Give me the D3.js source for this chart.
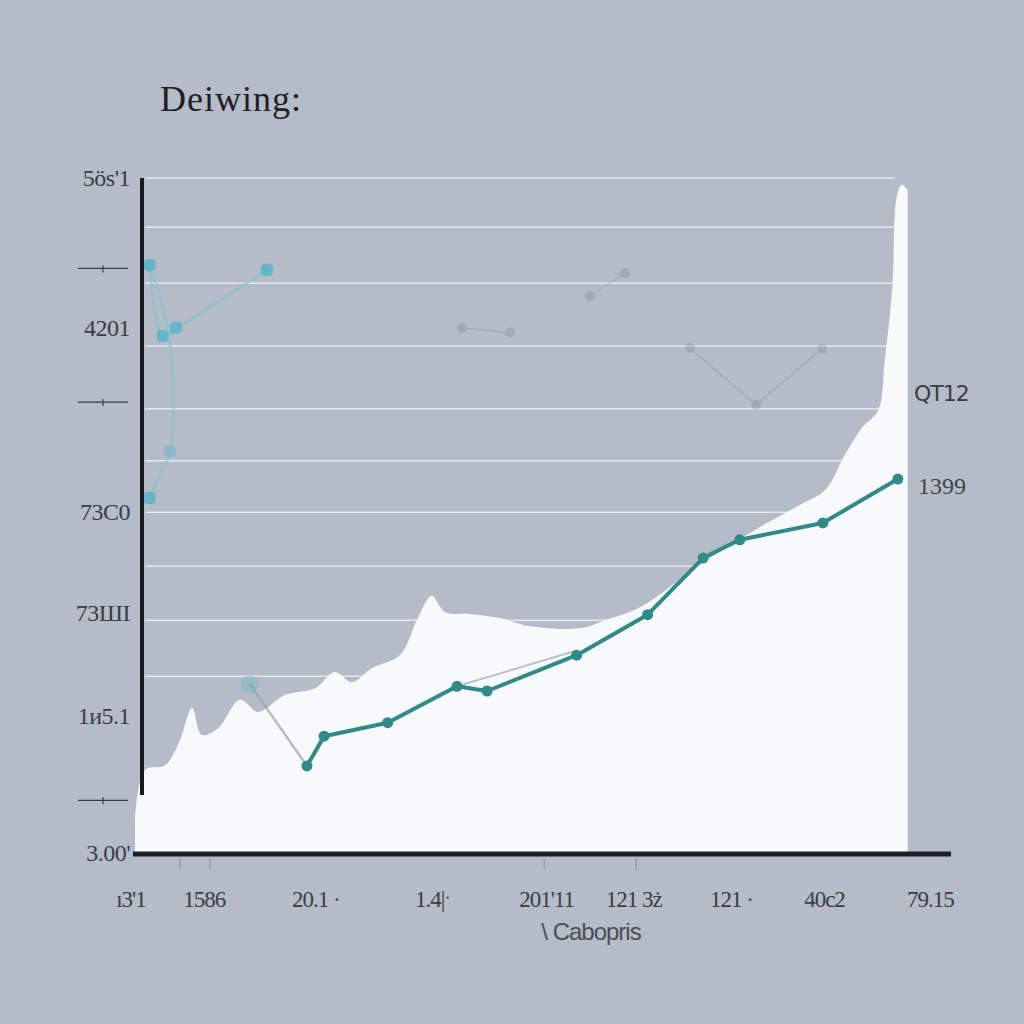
<!DOCTYPE html>
<html>
<head>
<meta charset="utf-8">
<script src="https://cdn.jsdelivr.net/npm/d3@7"></script>
<style>
  body { margin: 0; background: #b5bcc8; }
  svg { display: block; }
  .ylab, .xlab { font-family: 'Liberation Serif', serif; fill: #3a3d44; }
</style>
</head>
<body>
<svg id="chart" width="1024" height="1024"></svg>
<script>
// x and y both on a 0..100 scale
const mainX = [21.1, 23.2, 31.0, 39.5, 43.2, 54.2, 62.9, 69.7, 74.2, 84.4, 93.6];
const mainY = [12.9, 17.3, 19.3, 24.7, 24.0, 29.3, 35.3, 43.7, 46.4, 48.9, 55.4];

const areaX = [0, 1.2, 3.7, 5.5, 7.0, 8.2, 10.2, 12.9, 15.1, 18.4, 22.1, 24.5, 26.6, 29.1,
  32.5, 34.7, 36.4, 38.0, 41.1, 44.8, 48.5, 54.6, 57.7, 62.0, 69.3, 76.7, 81.6, 84.7,
  87.1, 89.2, 91.2, 92.0, 92.9, 93.5, 94.1, 94.8];
const areaY = [4.9, 12.3, 13.0, 16.7, 21.5, 17.5, 18.5, 22.7, 20.9, 23.4, 24.4, 26.8, 25.3, 27.4,
  29.3, 34.8, 38.1, 35.7, 35.4, 34.8, 33.6, 33.3, 34.5, 36.4, 42.7, 48.3, 51.6, 53.8,
  59.0, 63.0, 65.6, 73.0, 83.4, 97.5, 99.0, 98.2];

const gridY = [100, 92.7, 84.4, 75.1, 65.8, 58.1, 50.5, 42.5, 34.5, 26.2];

// faint ghost traces
const ghostCyanA = [[1.8, 87.1], [3.2, 82.0], [4.5, 73.0], [4.3, 59.5], [3.0, 56.0], [1.8, 52.6]];
const ghostCyanB = [[1.8, 87.1], [3.4, 76.6], [5.3, 77.9], [16.2, 86.4]];
const ghostCyanDots = [[1.8, 87.1], [3.4, 76.6], [5.0, 77.8], [16.2, 86.4], [1.8, 52.6], [14.1, 25.0], [4.3, 59.5]];
const ghostGrayA = [[14.1, 25.0], [21.1, 12.9]];
const ghostGrayB = [[39.5, 24.7], [54.2, 30.0]];
const ghostDots = [[[40.1, 77.8], [46.0, 77.1]], [[55.8, 82.5], [60.1, 85.9]],
  [[68.1, 74.8], [76.2, 66.4], [84.3, 74.7]]];

const yTickLabels = ["5ös'1", "4201", "73C0", "73ШI", "1и5.1", "3.00'"];
const yTickVals = [100, 77.8, 50.5, 35.5, 20.3, 0];
const yDashVals = [86.6, 66.8, 7.8];
const xTickLabels = ["ı3'1", "1586", "20.1 ·", "1.4|ˑ", "201'11", "121 3ż", "121 ·", "40c2", "79.15"];
const xTickVals = [-0.5, 8.5, 22.2, 36.5, 50.5, 61.2, 73.2, 84.6, 97.6];

const svg = d3.select('#chart');
const x = d3.scaleLinear().domain([0, 100]).range([135, 950]);
const y = d3.scaleLinear().domain([0, 100]).range([853, 178]);

// gridlines
svg.append('g').selectAll('line')
  .data(gridY)
  .join('line')
    .attr('x1', 145).attr('x2', 895)
    .attr('y1', d => y(d)).attr('y2', d => y(d))
    .attr('stroke', '#e4e7ec')
    .attr('stroke-width', 1.5);

// ghost gray dots in the middle
const line = d3.line().x(d => x(d[0])).y(d => y(d[1]));
const ghosts = svg.append('g').attr('opacity', 0.2);
ghostDots.forEach(seg => {
  ghosts.append('path')
      .attr('d', line(seg))
      .attr('fill', 'none')
      .attr('stroke', '#6d737e')
      .attr('stroke-width', 1.5);
  ghosts.selectAll(null)
    .data(seg)
    .join('circle')
      .attr('cx', d => x(d[0])).attr('cy', d => y(d[1]))
      .attr('r', 5)
      .attr('fill', '#5f6570');
});

// white area
const area = d3.area()
    .x((d, i) => x(areaX[i]))
    .y0(y(0))
    .y1(d => y(d))
    .curve(d3.curveCatmullRom.alpha(0.5));
svg.append('path')
    .attr('d', area(areaY))
    .attr('fill', '#f8f9fb');

// cyan ghost traces on the left
const curved = d3.line().x(d => x(d[0])).y(d => y(d[1])).curve(d3.curveCatmullRom);
[ghostCyanA, ghostCyanB].forEach(seg => {
  svg.append('path')
      .attr('d', curved(seg))
      .attr('fill', 'none')
      .attr('stroke', '#7cc3cf')
      .attr('stroke-opacity', 0.5)
      .attr('stroke-width', 3);
});
svg.append('path')
    .attr('d', line(ghostGrayA))
    .attr('stroke', '#9aa3ab')
    .attr('stroke-width', 2.5)
    .attr('opacity', 0.7);
svg.append('path')
    .attr('d', line(ghostGrayB))
    .attr('stroke', '#b9c3c6')
    .attr('stroke-width', 2);
svg.append('g').selectAll('rect')
  .data(ghostCyanDots)
  .join('rect')
    .attr('x', (d, i) => x(d[0]) - (i === 5 ? 9 : 6))
    .attr('y', (d, i) => y(d[1]) - (i === 5 ? 9 : 6))
    .attr('width', (d, i) => i === 5 ? 18 : 12)
    .attr('height', (d, i) => i === 5 ? 18 : 12)
    .attr('rx', (d, i) => i === 5 ? 9 : 4)
    .attr('fill', '#4fb2c8')
    .attr('opacity', (d, i) => i === 5 ? 0.3 : i === 6 ? 0.35 : 0.75);

// main series
svg.append('path')
    .attr('d', d3.line().x((d, i) => x(mainX[i])).y(d => y(d))(mainY))
    .attr('fill', 'none')
    .attr('stroke', '#2f8a88')
    .attr('stroke-width', 4)
    .attr('stroke-linejoin', 'round');
svg.append('g').selectAll('circle')
  .data(mainY)
  .join('circle')
    .attr('cx', (d, i) => x(mainX[i])).attr('cy', d => y(d))
    .attr('r', 5.5)
    .attr('fill', '#2f8a88');

// axes
svg.append('line')
    .attr('x1', 142).attr('x2', 142).attr('y1', 178).attr('y2', 795)
    .attr('stroke', '#17191c').attr('stroke-width', 4);
svg.append('line')
    .attr('x1', 133).attr('x2', 951).attr('y1', 854).attr('y2', 854)
    .attr('stroke', '#1d1f23').attr('stroke-width', 5);

// small stray ticks
const dashes = svg.append('g').attr('stroke', '#3a3d44').attr('stroke-width', 1.2);
yDashVals.forEach(v => {
  dashes.append('line').attr('x1', 78).attr('x2', 128).attr('y1', y(v)).attr('y2', y(v));
  dashes.append('line').attr('x1', 103).attr('x2', 103).attr('y1', y(v) - 3).attr('y2', y(v) + 4);
});
svg.append('g').selectAll('line')
  .data([5.5, 9.2, 50.2, 61.5])
  .join('line')
    .attr('x1', d => x(d)).attr('x2', d => x(d))
    .attr('y1', 858).attr('y2', 870)
    .attr('stroke', '#8a909a').attr('stroke-width', 1);

// tick labels
svg.append('g').selectAll('text')
  .data(yTickLabels)
  .join('text')
    .attr('class', 'ylab')
    .attr('x', 130)
    .attr('y', (d, i) => y(yTickVals[i]) + 8)
    .attr('text-anchor', 'end')
    .attr('font-size', 24)
    .attr('letter-spacing', -0.5)
    .text(d => d);
svg.append('g').selectAll('text')
  .data(xTickLabels)
  .join('text')
    .attr('class', 'xlab')
    .attr('x', (d, i) => x(xTickVals[i]))
    .attr('y', 907)
    .attr('text-anchor', 'middle')
    .attr('font-size', 23)
    .attr('letter-spacing', -1)
    .text(d => d);

svg.append('text')
    .attr('x', 591).attr('y', 940)
    .attr('text-anchor', 'middle')
    .attr('font-family', 'Liberation Sans, sans-serif')
    .attr('font-size', 24)
    .attr('letter-spacing', -1)
    .attr('fill', '#4a4e56')
    .text('\\ Cabopris');

// right-side labels
svg.append('text')
    .attr('x', 914).attr('y', 401)
    .attr('font-family', 'DejaVu Sans, sans-serif')
    .attr('font-size', 22)
    .attr('letter-spacing', -1)
    .attr('fill', '#3a3d44')
    .text('QT12');
svg.append('text')
    .attr('x', 918).attr('y', 494)
    .attr('font-family', 'Liberation Serif, serif')
    .attr('font-size', 24)
    .attr('fill', '#3f434a')
    .text('1399');

// title
svg.append('text')
    .attr('x', 160).attr('y', 111)
    .attr('font-family', 'Liberation Serif, serif')
    .attr('font-size', 36)
    .attr('letter-spacing', 1)
    .attr('fill', '#1e2024')
    .text('Deiwing:');
</script>
</body>
</html>
